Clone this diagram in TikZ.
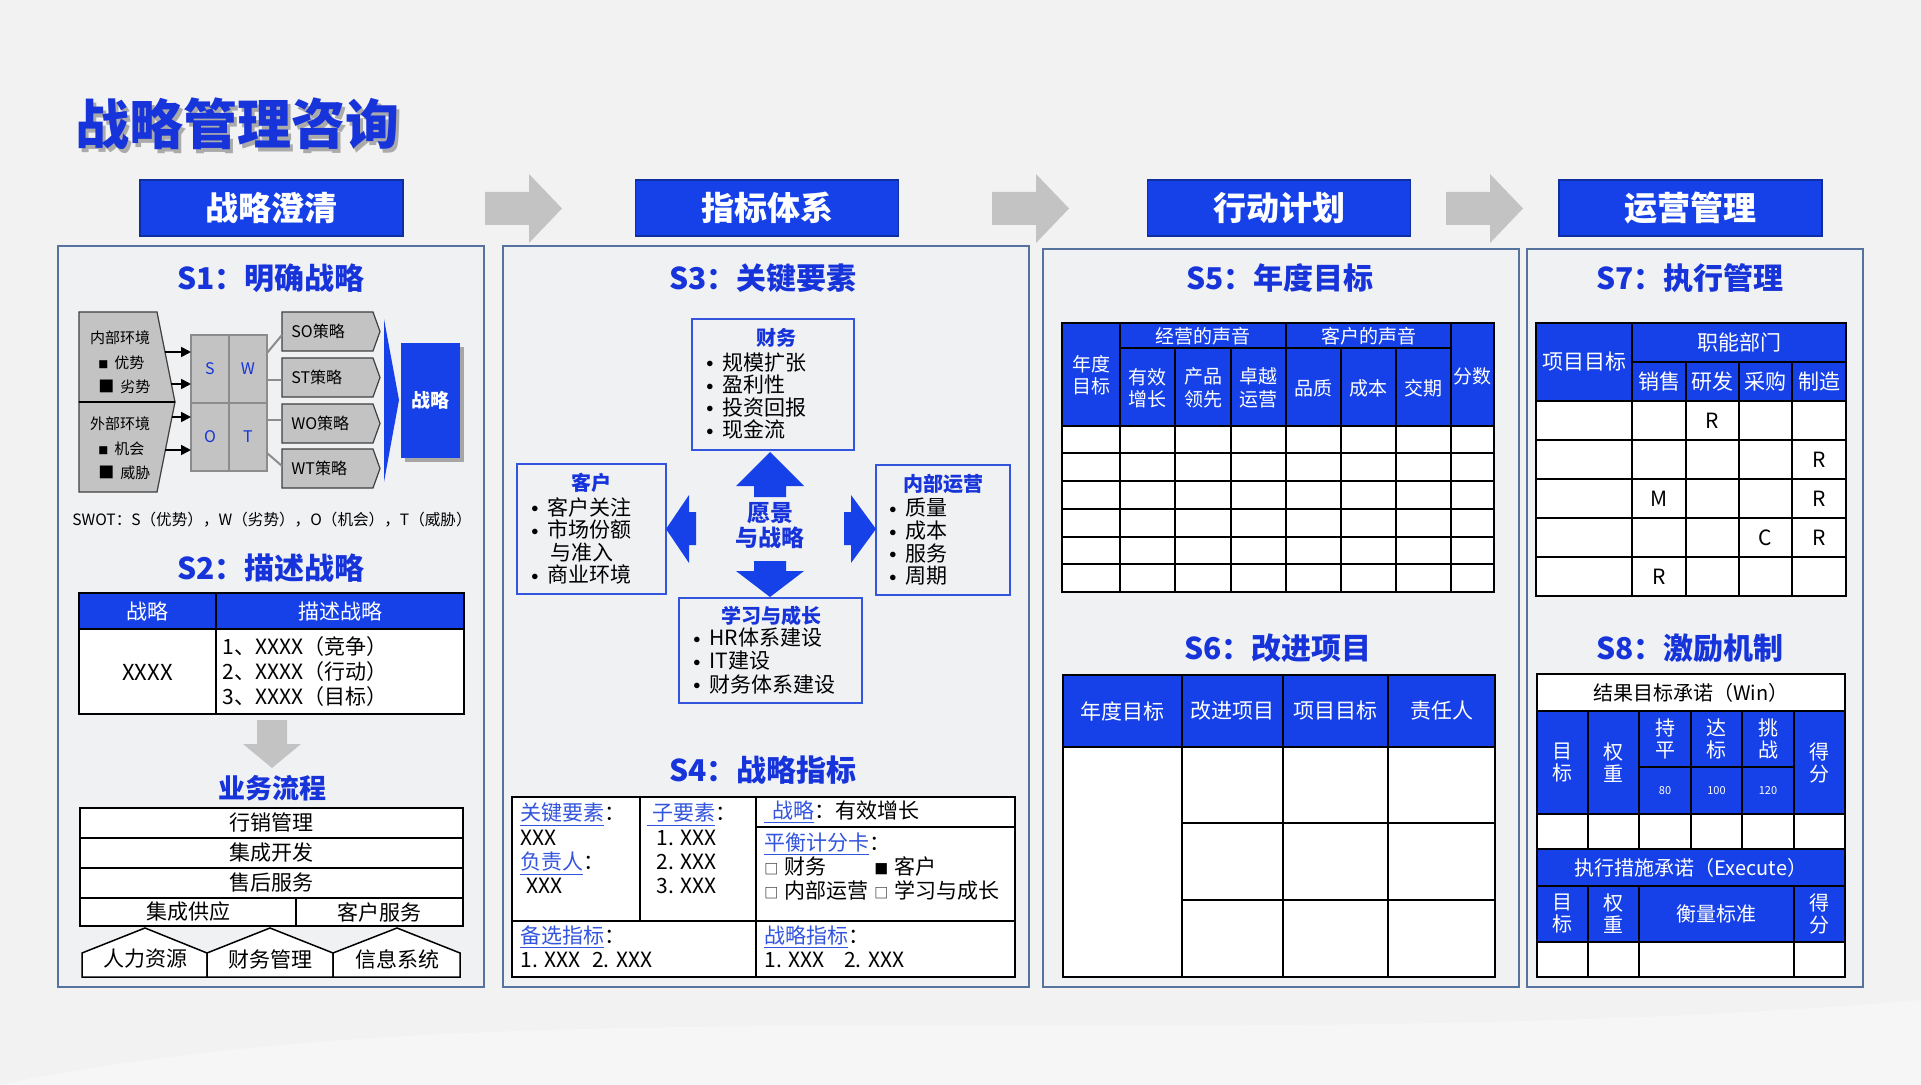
\documentclass[tikz,border=0pt]{standalone}
\usepackage{fontspec}
\setmainfont{Noto Sans CJK SC}
\usetikzlibrary{arrows.meta,calc}
\definecolor{bl}{HTML}{1641E8}
\definecolor{tb}{HTML}{1634DA}
\definecolor{lb}{HTML}{3355DD}
\definecolor{pbg}{HTML}{F0F1F3}
\definecolor{pbd}{HTML}{56739F}
\definecolor{gr}{HTML}{C3C3C3}
\definecolor{bgc}{HTML}{F2F2F2}
\newcommand{\bu}{\makebox[9pt][l]{\hspace{1pt}\raisebox{1.2pt}{\scalebox{0.65}{$\bullet$}}}}
\newcommand{\lbl}[1]{\textcolor{lb}{\underline{#1}}}
\newcommand{\cbx}[1]{{\fontsize{7}{7}\selectfont #1}\hspace{3pt}}
\tikzset{
  panel/.style={draw=pbd, line width=1pt, fill=pbg},
  stitle/.style={font=\fontsize{15}{18}\selectfont\bfseries, text=tb, inner sep=0},
  hdr/.style={fill=bl, draw=bl!70!black, line width=0.8pt, text=white, font=\fontsize{16.5}{19}\selectfont\bfseries, minimum width=131.5pt, minimum height=28pt, inner sep=0},
  tline/.style={draw=black, line width=0.75pt},
  wt/.style={text=white, font=\fontsize{10}{11}\selectfont, inner sep=0, align=center},
  bt/.style={text=black, font=\fontsize{10.5}{12}\selectfont, inner sep=0, align=center},
  st/.style={text=black, font=\fontsize{7.5}{9}\selectfont, inner sep=0},
  sbox/.style={fill=gr, draw=black!75, line width=0.6pt},
  kbox/.style={draw=lb, line width=0.8pt},
  ktitle/.style={text=tb, font=\fontsize{10}{12}\selectfont\bfseries, inner sep=0},
  kitem/.style={text=black, font=\fontsize{10.5}{11.3}\selectfont, inner sep=0, align=left, anchor=west},
  s4t/.style={text=black, font=\fontsize{10.5}{12.2}\selectfont, inner sep=0, align=left, anchor=west},
  chev/.style={fill=gr},
  barrow/.style={fill=bl},
}
\begin{document}
\begin{tikzpicture}[x=0.5pt,y=-0.5pt]
\useasboundingbox (0,0) rectangle (1921,1085);
\fill[bgc] (0,0) rectangle (1921,1085);
\fill[white, opacity=0.35] (0,1085) .. controls (500,980) and (1200,1060) .. (1921,1000) -- (1921,1085) -- cycle;

% main title
\node[font=\fontsize{27}{30}\selectfont\bfseries, text=black!45, opacity=0.7, inner sep=0] at (240.5,127.5) {战略管理咨询};
\node[font=\fontsize{27}{30}\selectfont\bfseries, text=tb, inner sep=0] (maintitle) at (237,124) {战略管理咨询};

% header boxes
\node[hdr] (h1) at (271.5,208) {战略澄清};
\node[hdr] (h2) at (767,208) {指标体系};
\node[hdr] (h3) at (1279,208) {行动计划};
\node[hdr] (h4) at (1690.5,208) {运营管理};
\foreach \x in {485,992,1446}
  \fill[chev] (\x,192) -- ++(44,0) -- ++(0,-18) -- ++(33,34.5) -- ++(-33,34.5) -- ++(0,-18) -- ++(-44,0) -- cycle;

% panels
\draw[panel] (58,246) rectangle (484,987);
\draw[panel] (503,246) rectangle (1029,987);
\draw[panel] (1043,249) rectangle (1519,987);
\draw[panel] (1527,249) rectangle (1863,987);

% ================= S1 =================
\node[stitle] (s1) at (271,278) {S1：明确战略};
\draw[sbox] (79,312) -- (157,312) -- (175,402) -- (79,402) -- cycle;
\draw[sbox] (79,402) -- (175,402) -- (157,492) -- (79,492) -- cycle;
\draw[black, line width=1.2pt] (79,402) -- (175,402);
\node[st] (ie) at (120,338) {内部环境};
\node[st, anchor=west] (ie1) at (98,363) {{\fontsize{5}{5}\selectfont ■}\hspace{3pt}优势};
\node[st, anchor=west] (ie2) at (98,387) {{\fontsize{8}{8}\selectfont ■}\hspace{3pt}劣势};
\node[st] (ee) at (120,424) {外部环境};
\node[st, anchor=west] (ee1) at (98,449) {{\fontsize{5}{5}\selectfont ■}\hspace{3pt}机会};
\node[st, anchor=west] (ee2) at (98,473) {{\fontsize{8}{8}\selectfont ■}\hspace{3pt}威胁};
% swot grid
\node[fill=gr, draw=black!45, line width=1pt, minimum width=19pt, minimum height=34pt, inner sep=0, text=tb, font=\fontsize{8}{9}\selectfont] (gS) at (210,369) {S};
\node[fill=gr, draw=black!45, line width=1pt, minimum width=19pt, minimum height=34pt, inner sep=0, text=tb, font=\fontsize{8}{9}\selectfont] (gW) at (248,369) {W};
\node[fill=gr, draw=black!45, line width=1pt, minimum width=19pt, minimum height=34pt, inner sep=0, text=tb, font=\fontsize{8}{9}\selectfont] (gO) at (210,437) {O};
\node[fill=gr, draw=black!45, line width=1pt, minimum width=19pt, minimum height=34pt, inner sep=0, text=tb, font=\fontsize{8}{9}\selectfont] (gT) at (248,437) {T};
\coordinate (a1) at (165,352); \coordinate (a2) at (171,384);
\coordinate (a3) at (172,417); \coordinate (a4) at (165,450);
\foreach \i/\y in {1/352,2/384,3/417,4/450}
  \draw[line width=0.9pt, -{Triangle[length=5pt,width=5pt]}] (a\i) -- (191,\y);
% strategy boxes
\foreach \t/\ya/\yb in {SO/312/351, ST/358/397, WO/404/443, WT/449/488} {
  \draw[sbox] (282,\ya) -- (373,\ya) -- (380,{(\ya+\yb)/2}) -- (373,\yb) -- (282,\yb) -- cycle;
  \node[st, anchor=west, font=\fontsize{8}{9}\selectfont] (str\t) at (291,{(\ya+\yb)/2}) {\t 策略};
}
\draw[black!45, line width=1pt] (267,353) -- (282,335);
\draw[black!45, line width=1pt] (267,380) -- (282,380);
\draw[black!45, line width=1pt] (267,420) -- (282,420);
\draw[black!45, line width=1pt] (267,453) -- (282,466);
\fill[bl] (384,319) -- (399,400) -- (384,482) -- cycle;
\fill[black!35] (405,347) rectangle (464,462);
\node[fill=bl, minimum width=29.5pt, minimum height=57.5pt, inner sep=0, text=white, font=\fontsize{9.5}{11}\selectfont\bfseries] (zl) at (430.5,400.5) {战略};
\node[st, font=\fontsize{7.8}{9}\selectfont] (cap) at (272,520) {SWOT：S（优势），W（劣势），O（机会），T（威胁）};

% ================= S2 =================
\node[stitle] (s2) at (271,568) {S2：描述战略};
\fill[bl] (79,593) rectangle (464,629);
\fill[white] (79,629) rectangle (464,714);
\draw[tline] (79,593) rectangle (464,714) (79,629) -- (464,629) (216,593) -- (216,714);
\node[wt, font=\fontsize{10.5}{12}\selectfont] (t2a) at (147.5,611) {战略};
\node[wt, font=\fontsize{10.5}{12}\selectfont] (t2b) at (340,611) {描述战略};
\node[bt, font=\fontsize{11}{12}\selectfont] (t2c) at (147.5,672) {XXXX};
\node[bt, anchor=west, align=left, font=\fontsize{10.5}{12.5}\selectfont] (t2d) at (222,672) {1、XXXX（竞争）\\2、XXXX（行动）\\3、XXXX（目标）};
\fill[gr] (257,720) -- (287,720) -- (287,744) -- (301,744) -- (272,768) -- (243,744) -- (257,744) -- cycle;
\node[font=\fontsize{13.5}{15}\selectfont\bfseries, text=tb, inner sep=0] (bp) at (272,788) {业务流程};
\foreach \ya/\yb/\t in {808/838/行销管理, 838/868/集成开发, 868/898/售后服务} {
  \draw[tline, fill=white] (80,\ya) rectangle (463,\yb);
  \node[bt] at (271.5,{(\ya+\yb)/2}) {\t};
}
\draw[tline, fill=white] (80,898) rectangle (296,926);
\draw[tline, fill=white] (296,898) rectangle (463,926);
\node[bt] (p4) at (188,912) {集成供应};
\node[bt] (p5) at (379.5,912) {客户服务};
\foreach \xa/\xm/\xb/\t in {82/145/207/人力资源, 207/270/333/财务管理, 333/397/460/信息系统} {
  \draw[tline, fill=white] (\xa,977) -- (\xa,953) -- (\xm,928) -- (\xb,953) -- (\xb,977) -- cycle;
  \node[bt] at (\xm,959) {\t};
}

% ================= S3 =================
\node[stitle] (s3) at (763,278) {S3：关键要素};
\draw[kbox] (692,319) rectangle (854,450);
\node[ktitle] (k1t) at (776,338) {财务};
\node[kitem] (k1) at (704,396) {\bu 规模扩张\\\bu 盈利性\\\bu 投资回报\\\bu 现金流};
\draw[kbox] (517,464) rectangle (666,594);
\node[ktitle] (k2t) at (591,483) {客户};
\node[kitem] (k2) at (529,541) {\bu 客户关注\\\bu 市场份额\\\hspace{10.5pt}与准入\\\bu 商业环境};
\draw[kbox] (876,465) rectangle (1010,595);
\node[ktitle] (k3t) at (943,484) {内部运营};
\node[kitem] (k3) at (887,542) {\bu 质量\\\bu 成本\\\bu 服务\\\bu 周期};
\draw[kbox] (679,598) rectangle (862,703);
\node[ktitle] (k4t) at (771,616) {学习与成长};
\node[kitem, font=\fontsize{10.5}{11.6}\selectfont] (k4) at (691,661) {\bu HR体系建设\\\bu IT建设\\\bu 财务体系建设};
\node[font=\fontsize{11.5}{12.5}\selectfont\bfseries, text=tb, inner sep=0, align=center] (vis) at (770,526) {愿景\\与战略};
\fill[barrow] (754,497) -- (754,486) -- (736,486) -- (770,452) -- (804,486) -- (786,486) -- (786,497) -- cycle;
\fill[barrow] (754,561) -- (786,561) -- (786,571) -- (804,571) -- (770,597) -- (736,571) -- (754,571) -- cycle;
\fill[barrow] (696,512) -- (689,512) -- (689,495) -- (666,529) -- (689,563) -- (689,545) -- (696,545) -- cycle;
\fill[barrow] (844,512) -- (851,512) -- (851,495) -- (876,529) -- (851,563) -- (851,545) -- (844,545) -- cycle;

% ================= S4 =================
\node[stitle] (s4) at (763,770) {S4：战略指标};
\fill[white] (512,797) rectangle (1015,977);
\draw[tline] (512,797) rectangle (1015,977) (640,797) -- (640,921) (756,797) -- (756,977) (512,921) -- (1015,921) (756,827) -- (1015,827);
\node[s4t] (c1) at (520,848.5) {\lbl{关键要素}：\\XXX\\\lbl{负责人}：\\\hspace{3pt}XXX};
\node[s4t] (c2) at (647,848.5) {\lbl{\hspace{2.5pt}子要素}：\\\hspace{4.5pt}1. XXX\\\hspace{4.5pt}2. XXX\\\hspace{4.5pt}3. XXX};
\node[s4t] (c3) at (764,812) {\lbl{\hspace{4pt}战略}：有效增长};
\node[s4t] (c4) at (764,866.5) {\lbl{平衡计分卡}：\\\makebox[55pt][l]{\cbx{□}财务}\cbx{■}客户\\\makebox[55pt][l]{\cbx{□}内部运营}\cbx{□}学习与成长};
\node[s4t] (c5) at (520,946.5) {\lbl{备选指标}：\\1. XXX\hspace{6pt}2. XXX};
\node[s4t] (c6) at (764,946.5) {\lbl{战略指标}：\\1. XXX\hspace{10pt}2. XXX};

% ================= S5 =================
\node[stitle] (s5) at (1280,278) {S5：年度目标};
\fill[bl] (1062,323) rectangle (1494,426);
\fill[white] (1062,426) rectangle (1494,592);
\draw[tline] (1062,323) rectangle (1494,592);
\foreach \x in {1120,1286,1451} \draw[tline] (\x,323) -- (\x,592);
\foreach \x in {1175,1231,1341,1396} \draw[tline] (\x,348) -- (\x,592);
\draw[tline] (1120,348) -- (1451,348);
\foreach \y in {426,453,481,509,537,564} \draw[tline] (1062,\y) -- (1494,\y);
\begin{scope}[every node/.style={wt, font=\fontsize{9.5}{11.2}\selectfont}]
\node (y0) at (1091,375) {年度\\目标};
\node (g1) at (1203,336) {经营的声音};
\node (g2) at (1368.5,336) {客户的声音};
\node (y1) at (1147.5,388) {有效\\增长};
\node (y2) at (1203,388) {产品\\领先};
\node (y3) at (1258.5,388) {卓越\\运营};
\node (y4) at (1313.5,388) {品质};
\node (y5) at (1368.5,388) {成本};
\node (y6) at (1423.5,388) {交期};
\node (y7) at (1472.5,376) {分数};
\end{scope}

% ================= S6 =================
\node[stitle] (s6) at (1278,648) {S6：改进项目};
\fill[bl] (1063,675) rectangle (1495,747);
\fill[white] (1063,747) rectangle (1495,977);
\draw[tline] (1063,675) rectangle (1495,977) (1063,747) -- (1495,747);
\foreach \x in {1182,1283,1388} \draw[tline] (\x,675) -- (\x,977);
\foreach \y in {823,900} \draw[tline] (1182,\y) -- (1495,\y);
\begin{scope}[every node/.style={wt, font=\fontsize{10.5}{12}\selectfont}]
\node (i1) at (1122.5,711) {年度目标};
\node (i2) at (1232.5,711) {改进项目};
\node (i3) at (1335.5,711) {项目目标};
\node (i4) at (1441.5,711) {责任人};
\end{scope}

% ================= S7 =================
\node[stitle] (s7) at (1690,278) {S7：执行管理};
\fill[bl] (1536,323) rectangle (1846,401);
\fill[white] (1536,401) rectangle (1846,596);
\draw[tline] (1536,323) rectangle (1846,596) (1632,323) -- (1632,596) (1632,362) -- (1846,362);
\foreach \x in {1686,1739,1792} \draw[tline] (\x,362) -- (\x,596);
\foreach \y in {401,440,479,518,557} \draw[tline] (1536,\y) -- (1846,\y);
\begin{scope}[every node/.style={wt, font=\fontsize{10.5}{12}\selectfont}]
\node (e0) at (1584,362) {项目目标};
\node (e1) at (1739,342) {职能部门};
\node (e2) at (1659,382) {销售};
\node (e3) at (1712.5,382) {研发};
\node (e4) at (1765.5,382) {采购};
\node (e5) at (1819,382) {制造};
\end{scope}
\node[bt] (r1) at (1712.5,420.5) {R};
\node[bt] (r2) at (1819,459.5) {R};
\node[bt] (r3) at (1659,498.5) {M};
\node[bt] (r4) at (1819,498.5) {R};
\node[bt] (r5) at (1765.5,537.5) {C};
\node[bt] (r6) at (1819,537.5) {R};
\node[bt] (r7) at (1659,576.5) {R};

% ================= S8 =================
\node[stitle] (s8) at (1690,648) {S8：激励机制};
\fill[white] (1537,674) rectangle (1845,711);
\fill[bl] (1537,711) rectangle (1845,814);
\fill[white] (1537,814) rectangle (1845,849);
\fill[bl] (1537,849) rectangle (1845,942);
\fill[white] (1537,942) rectangle (1845,977);
\draw[tline] (1537,674) rectangle (1845,977);
\foreach \y in {711,814,849,886,942} \draw[tline] (1537,\y) -- (1845,\y);
\draw[tline] (1639,767) -- (1794,767);
\foreach \x in {1588,1639,1691,1742,1794} \draw[tline] (\x,711) -- (\x,849);
\foreach \x in {1588,1639,1794} \draw[tline] (\x,886) -- (\x,977);
\node[bt, font=\fontsize{10}{12}\selectfont] (w0) at (1691,692.5) {结果目标承诺（Win）};
\begin{scope}[every node/.style={wt, font=\fontsize{10}{11}\selectfont}]
\node (w1) at (1562.5,762.5) {目\\标};
\node (w2) at (1613.5,762.5) {权\\重};
\node (w3) at (1665,739) {持\\平};
\node (w4) at (1716.5,739) {达\\标};
\node (w5) at (1768,739) {挑\\战};
\node (w6) at (1819.5,762.5) {得\\分};
\node (x0) at (1691,867.5) {执行措施承诺（Execute）};
\node (x1) at (1562.5,914) {目\\标};
\node (x2) at (1613.5,914) {权\\重};
\node (x3) at (1716.5,914) {衡量标准};
\node (x4) at (1819.5,914) {得\\分};
\end{scope}
\begin{scope}[every node/.style={wt, font=\fontsize{5.5}{6}\selectfont}]
\node (n1) at (1665,790.5) {80};
\node (n2) at (1716.5,790.5) {100};
\node (n3) at (1768,790.5) {120};
\end{scope}
\end{tikzpicture}
\end{document}
